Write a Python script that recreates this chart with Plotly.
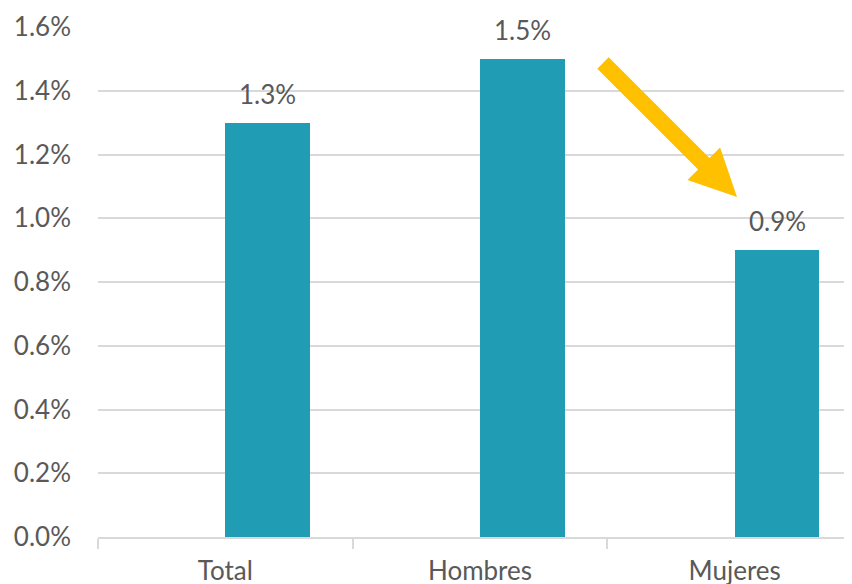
import plotly.graph_objects as go

categories = ["Total", "Hombres", "Mujeres"]
values = [1.3, 1.5, 0.9]
y_ticks = [0.0, 0.2, 0.4, 0.6, 0.8, 1.0, 1.2, 1.4, 1.6]
y_tick_labels = [f"{v:.1f}%" for v in y_ticks]

OFF = 8  # page body margin in the browser
W, H = 852 - OFF, 584 - OFF
ML, MR, MT, MB = 98 - OFF, 0, 27 - OFF, 47
pw, ph = W - ML - MR, H - MT - MB

def to_paper(px, py):
    # px, py are screen pixels
    return (px - OFF - ML) / pw, (H - MB - (py - OFF)) / ph

# arrow polygon in screen pixel space (decoration)
arrow_px = [(608.7, 57.3), (709.5, 158.1), (720.1, 147.5), (737, 197),
            (687.5, 180.1), (698.1, 169.5), (597.3, 68.7)]
pts = [to_paper(x, y) for x, y in arrow_px]
path = "M " + " L ".join(f"{x:.4f},{y:.4f}" for x, y in pts) + " Z"

font = dict(family="Lato, Open Sans, sans-serif", size=26, color="#595959")
BAR_W = 0.333

fig = go.Figure()
fig.add_trace(go.Bar(
    x=categories, y=values,
    offset=0, width=BAR_W,
    marker=dict(color="#209DB4", line=dict(width=0)),
    hoverinfo="x+y",
))
for i, v in enumerate(values):
    fig.add_annotation(x=i + BAR_W / 2, y=v, text=f"{v:.1f}%",
                       showarrow=False, yanchor="middle", yshift=29,
                       font=font)
fig.add_shape(type="path", path=path, xref="paper", yref="paper",
              fillcolor="#FFC000", line=dict(width=0), layer="above")

fig.update_layout(
    width=W, height=H,
    margin=dict(l=ML, r=MR, t=MT, b=MB, pad=0, autoexpand=False),
    paper_bgcolor="white", plot_bgcolor="white",
    showlegend=False, font=font, bargap=0,
)
fig.update_xaxes(
    range=[-0.5, 2.5 - 10 / 255], tickson="boundaries", automargin=False,
    ticks="outside", ticklen=10, tickcolor="#D9D9D9", tickwidth=1.5,
    showline=True, linecolor="#D9D9D9", linewidth=1.5,
    showgrid=False, tickfont=font, ticklabelstandoff=10,
)
fig.update_yaxes(
    range=[0, 1.6], tickvals=y_ticks, ticktext=y_tick_labels, automargin=False,
    showgrid=True, gridcolor="#D9D9D9", gridwidth=1.5,
    zeroline=False, showline=False, ticks="", tickfont=font,
    ticklabelstandoff=26,
)
fig.write_html("out.html")
